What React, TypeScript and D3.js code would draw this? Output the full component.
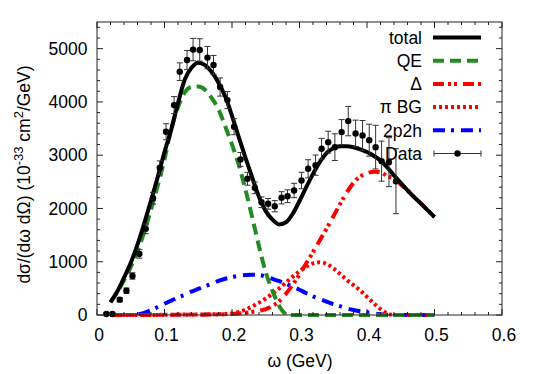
import React from 'react'
import * as d3 from 'd3'

// model curves, sampled on a 0.01 GeV grid
const omega = [0.02, 0.03, 0.04, 0.05, 0.06, 0.07, 0.08, 0.09, 0.10, 0.11, 0.12, 0.13, 0.14, 0.15, 0.16, 0.17, 0.18, 0.19, 0.20, 0.21, 0.22, 0.23, 0.24, 0.25, 0.26, 0.27, 0.28, 0.29, 0.30, 0.31, 0.32, 0.33, 0.34, 0.35, 0.36, 0.37, 0.38, 0.39, 0.40, 0.41, 0.42, 0.43, 0.44, 0.45, 0.46, 0.47, 0.48, 0.49, 0.50]
const totalVals = [240, 440, 700, 980, 1320, 1720, 2150, 2590, 3060, 3480, 3980, 4420, 4640, 4735, 4690, 4560, 4360, 4100, 3740, 3340, 2950, 2580, 2220, 1950, 1790, 1700, 1740, 1900, 2140, 2400, 2650, 2870, 3040, 3130, 3170, 3170, 3150, 3110, 3060, 2990, 2900, 2770, 2620, 2480, 2340, 2210, 2090, 1965, 1840]
const qeVals = [237, 430, 650, 900, 1200, 1560, 1980, 2430, 2920, 3500, 3900, 4180, 4280, 4290, 4230, 4070, 3860, 3540, 3200, 2820, 2350, 1830, 1290, 800, 450, 170, 20, 0, 0, 0, 0, 0, 0, 0, 0, 0, 0, 0, 0, 0, 0, 0, 0, 0, 0, 0, 0, 0, 0]
const deltaVals = [0, 0, 0, 0, 0, 0, 0, 0, 0, 2, 3, 4, 5, 5, 6, 8, 10, 14, 20, 28, 40, 58, 80, 110, 170, 260, 400, 570, 760, 970, 1180, 1400, 1620, 1850, 2080, 2300, 2480, 2600, 2660, 2690, 2680, 2610, 2560, 2450, 2340, 2210, 2090, 1965, 1840]
const piBgVals = [0, 0, 0, 0, 0, 0, 0, 2, 5, 6, 8, 9, 10, 10, 12, 14, 15, 20, 30, 60, 100, 160, 230, 310, 400, 500, 610, 720, 820, 910, 970, 990, 960, 880, 770, 660, 560, 460, 340, 220, 110, 30, 0, 0, 0, 0, 0, 0, 0]
const twoP2hVals = [0, 0, 0, 0, 10, 40, 90, 150, 210, 270, 330, 380, 440, 490, 540, 590, 640, 680, 710, 735, 750, 755, 750, 720, 680, 635, 585, 530, 475, 410, 350, 300, 250, 205, 165, 125, 95, 70, 50, 30, 15, 5, 0, 0, 0, 0, 0, 0, 0]

// measured points
const dataX = [0.0138, 0.0228, 0.0337, 0.0436, 0.0525, 0.0628, 0.0722, 0.0830, 0.0930, 0.1023, 0.1142, 0.1226, 0.1334, 0.1423, 0.1522, 0.1637, 0.1726, 0.1824, 0.1932, 0.2031, 0.2126, 0.2229, 0.2338, 0.2437, 0.2535, 0.2634, 0.2734, 0.2823, 0.2920, 0.3030, 0.3128, 0.3238, 0.3327, 0.3425, 0.3524, 0.3624, 0.3722, 0.3831, 0.3934, 0.4033, 0.4128, 0.4216, 0.4325, 0.4429]
const dataY = [20, 20, 288, 457, 733, 1147, 1617, 2192, 2763, 3440, 3940, 4568, 4786, 4982, 4975, 4832, 4692, 4279, 4034, 3534, 2920, 2557, 2388, 2117, 2087, 2042, 2200, 2230, 2337, 2525, 2745, 2813, 3121, 3245, 3151, 3433, 3640, 3408, 3371, 3282, 3151, 2888, 2869, 2512]
const dataErr = [20, 25, 40, 50, 60, 80, 90, 110, 130, 150, 160, 165, 180, 210, 210, 210, 180, 170, 160, 150, 130, 120, 110, 100, 100, 105, 115, 120, 135, 155, 170, 190, 195, 205, 250, 235, 276, 250, 280, 300, 410, 376, 460, 610]

const xTicks = [0, 0.1, 0.2, 0.3, 0.4, 0.5, 0.6]
const yTicks = [0, 1000, 2000, 3000, 4000, 5000]

const W = 534
const H = 374
const margin = { top: 22, right: 32, bottom: 59, left: 97 }
const font = '"Liberation Sans", Arial, sans-serif'

const series = [
  { name: 'total', vals: totalVals, color: '#000', dash: null, width: 4 },
  { name: 'QE', vals: qeVals, color: '#228b22', dash: '11,6', width: 4 },
  { name: 'Δ', vals: deltaVals, color: '#ff0000', dash: '11,4,3,3,3,6', width: 4 },
  { name: 'π BG', vals: piBgVals, color: '#ff0000', dash: '3,3', width: 4 },
  { name: '2p2h', vals: twoP2hVals, color: '#0000ff', dash: '12,6,3,7', width: 4 },
]

export default function App() {
  const x = d3.scaleLinear().domain([0, 0.6]).range([margin.left, W - margin.right])
  const y = d3.scaleLinear().domain([0, 5500]).range([H - margin.bottom, margin.top])
  const x0 = x.range()[0], x1 = x.range()[1]
  const y0 = y.range()[0], y1 = y.range()[1]

  const line = d3.line<number>()
    .x((d, i) => x(omega[i]))
    .y((d) => y(d))
    .curve(d3.curveMonotoneX)

  const xMinor = d3.range(0, 0.601, 0.02)
  const yMinor = d3.range(0, 5501, 200)

  // drawing order: background curves first, total on top
  const drawOrder = [series[4], series[3], series[2], series[1], series[0]]

  const legendX = 422
  const legendTop = 37.5
  const legendStep = 23.2

  return (
    <svg width={W} height={H} style={{ position: 'absolute', left: 0, top: 0, background: '#fff' }}
      fontFamily={font} fontSize={17.5}>
      {/* curves */}
      {drawOrder.map((s) => (
        <path key={s.name} d={line(s.vals) || ''} fill="none" stroke={s.color}
          strokeWidth={s.width} strokeDasharray={s.dash || undefined} />
      ))}

      {/* data */}
      {dataX.map((dx, i) => (
        <g key={i} stroke="#333" strokeWidth={1}>
          <line x1={x(dx)} x2={x(dx)} y1={y(dataY[i] - dataErr[i])} y2={y(dataY[i] + dataErr[i])} />
          <line x1={x(dx) - 3} x2={x(dx) + 3} y1={y(dataY[i] - dataErr[i])} y2={y(dataY[i] - dataErr[i])} />
          <line x1={x(dx) - 3} x2={x(dx) + 3} y1={y(dataY[i] + dataErr[i])} y2={y(dataY[i] + dataErr[i])} />
          <circle cx={x(dx)} cy={y(dataY[i])} r={3.2} fill="#000" stroke="none" />
        </g>
      ))}

      {/* frame and ticks */}
      <g stroke="#222" strokeWidth={1} fill="none">
        <rect x={x0} y={y1} width={x1 - x0} height={y0 - y1} />
        {xMinor.map((t, i) => {
          const len = Math.abs(t * 10 - Math.round(t * 10)) < 1e-6 ? 6 : 3
          return (
            <g key={'xt' + i}>
              <line x1={x(t)} x2={x(t)} y1={y0} y2={y0 - len} />
              <line x1={x(t)} x2={x(t)} y1={y1} y2={y1 + len} />
            </g>
          )
        })}
        {yMinor.map((t, i) => {
          const len = t % 1000 === 0 ? 6 : 3
          return (
            <g key={'yt' + i}>
              <line x1={x0} x2={x0 + len} y1={y(t)} y2={y(t)} />
              <line x1={x1} x2={x1 - len} y1={y(t)} y2={y(t)} />
            </g>
          )
        })}
      </g>

      {/* tick labels */}
      {xTicks.map((t) => (
        <text key={'xl' + t} x={x(t) + 2} y={340.5} textAnchor="middle" fill="#000">{t === 0 ? '0' : d3.format('.1f')(t)}</text>
      ))}
      {yTicks.map((t) => (
        <text key={'yl' + t} x={87.5} y={y(t) + 6.3} textAnchor="end" fill="#000">{t}</text>
      ))}

      {/* axis titles */}
      <text x={300} y={366.5} textAnchor="middle" fill="#000">ω (GeV)</text>
      <text transform={`translate(30,${(y0 + y1) / 2 + 6}) rotate(-90)`} textAnchor="middle" fill="#000">
        dσ/(dω dΩ) (10<tspan dy={-7} fontSize={13}>-33</tspan><tspan dy={7}> cm</tspan><tspan dy={-7} fontSize={13}>2</tspan><tspan dy={7}>/GeV)</tspan>
      </text>

      {/* legend */}
      {series.map((s, i) => {
        const ly = legendTop + i * legendStep
        return (
          <g key={'lg' + s.name}>
            <text x={legendX} y={ly + 6.3} textAnchor="end" fill="#000">{s.name}</text>
            <line x1={433} x2={481} y1={ly} y2={ly} stroke={s.color} strokeWidth={s.width}
              strokeDasharray={s.dash || undefined} />
          </g>
        )
      })}
      {(() => {
        const ly = legendTop + 5 * legendStep
        return (
          <g>
            <text x={legendX} y={ly + 6.3} textAnchor="end" fill="#000">Data</text>
            <g stroke="#333" strokeWidth={1}>
              <line x1={434} x2={481} y1={ly} y2={ly} />
              <line x1={434} x2={434} y1={ly - 3} y2={ly + 3} />
              <line x1={481} x2={481} y1={ly - 3} y2={ly + 3} />
            </g>
            <circle cx={457.5} cy={ly} r={3.2} fill="#000" />
          </g>
        )
      })()}
    </svg>
  )
}
